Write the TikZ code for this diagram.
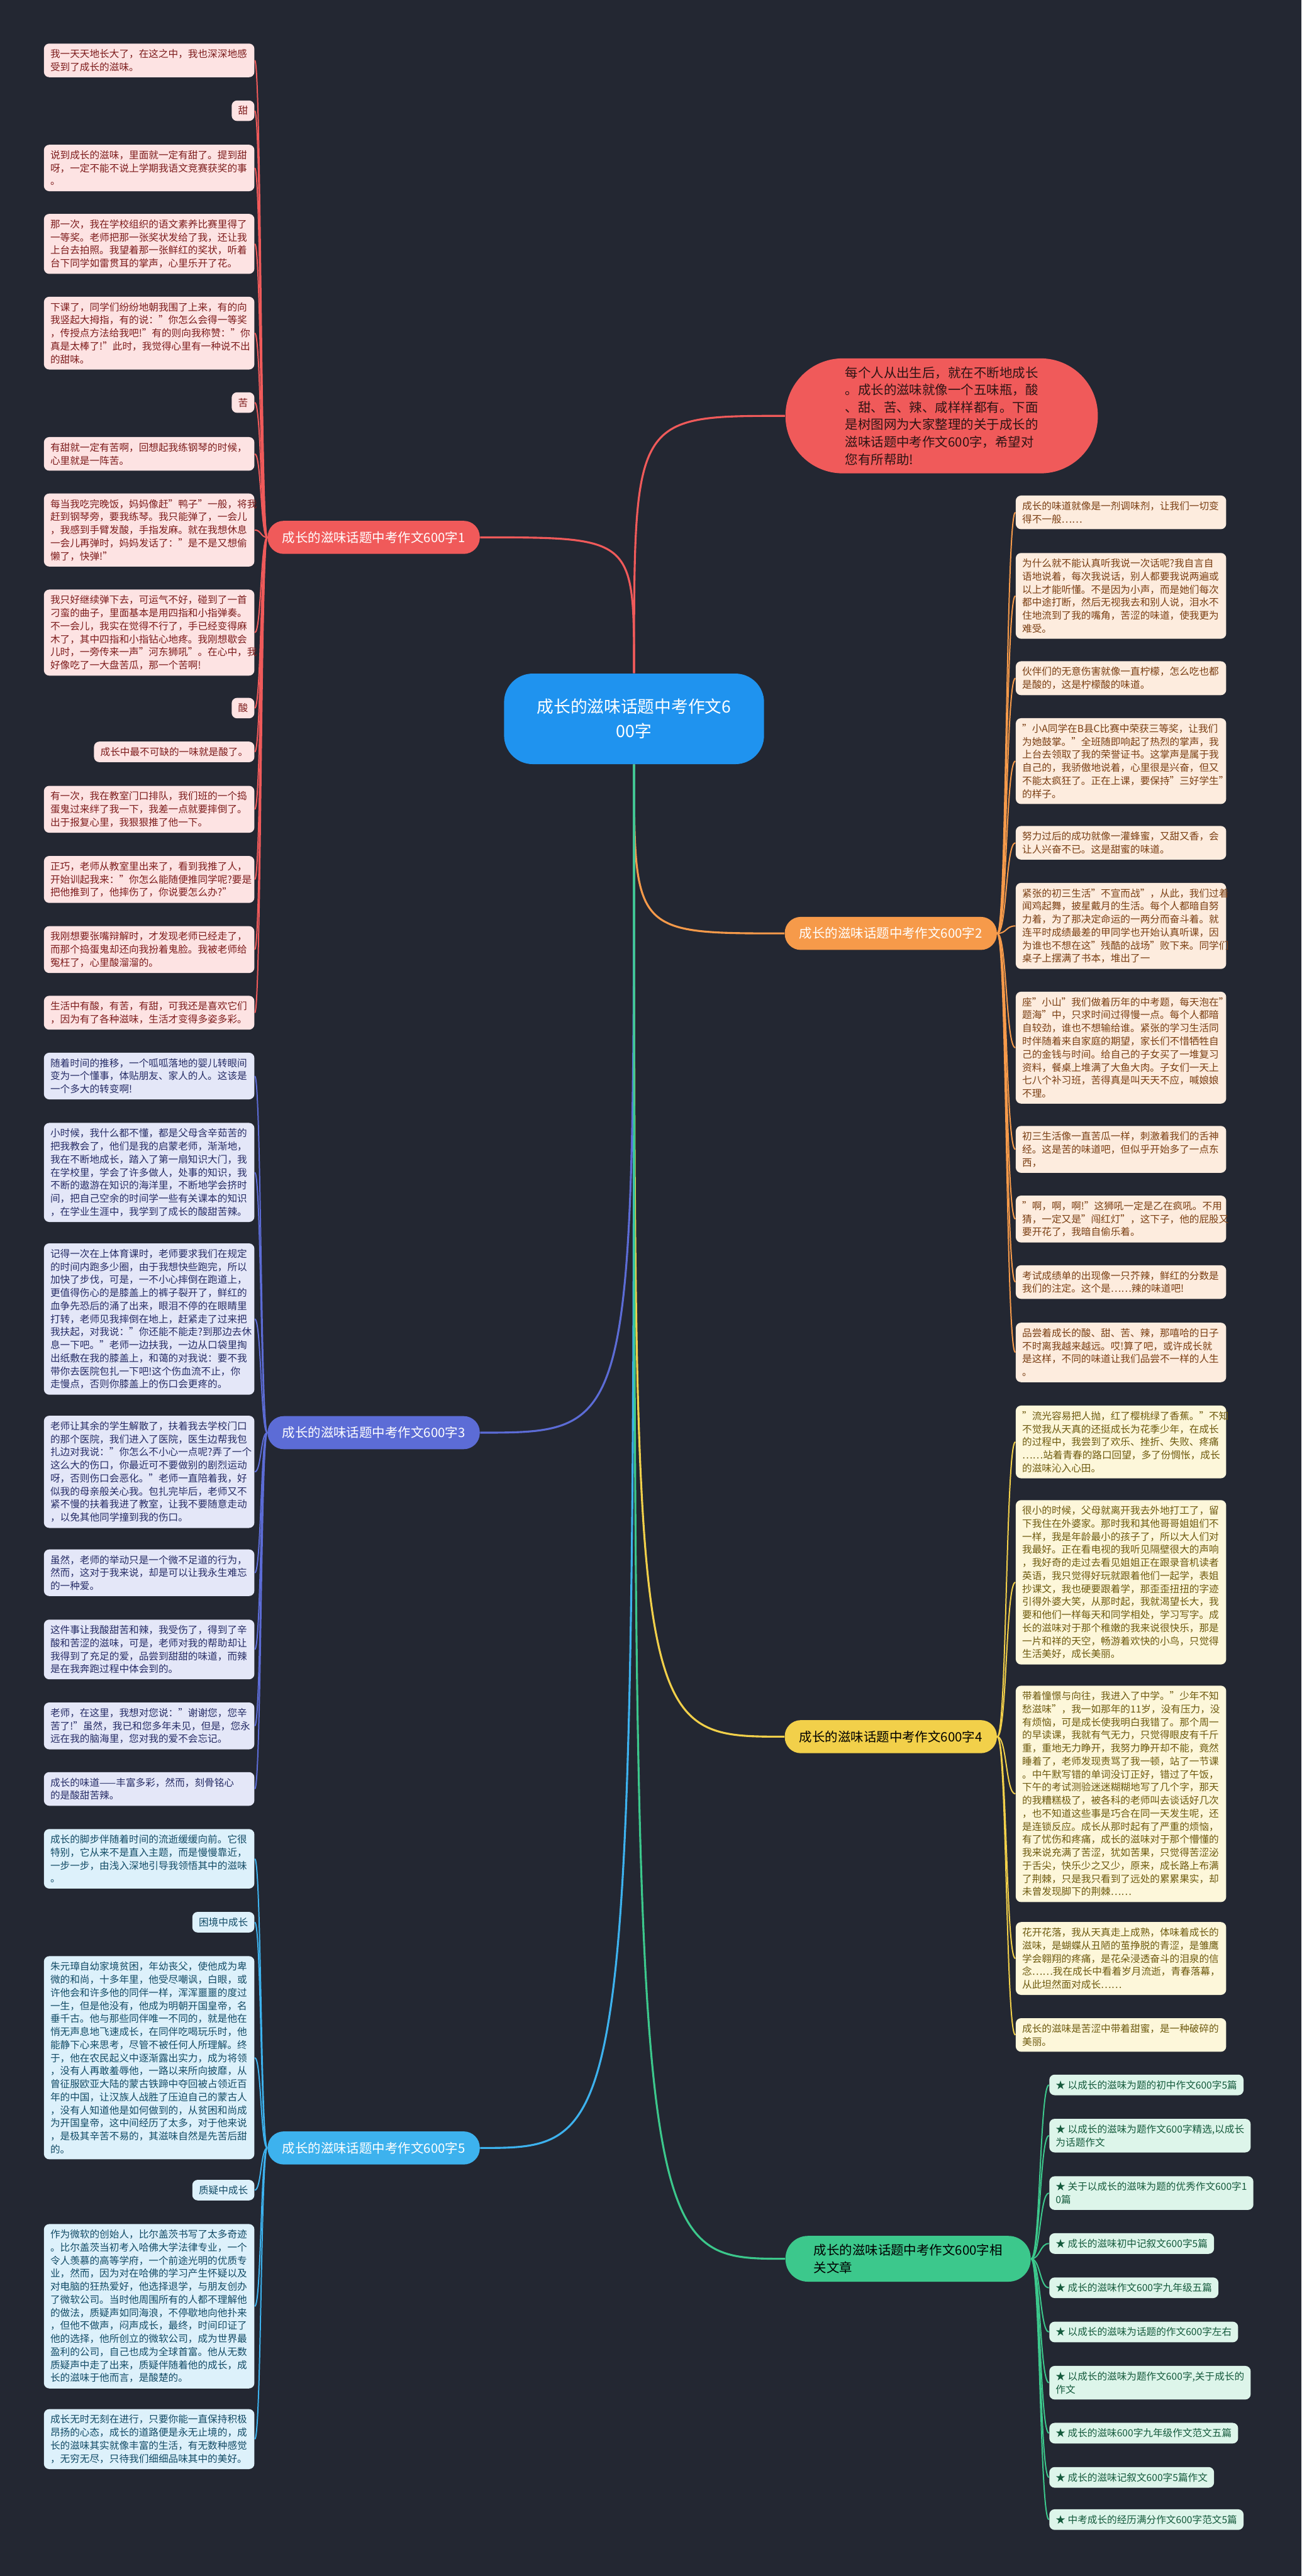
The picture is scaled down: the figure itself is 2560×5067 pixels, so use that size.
\documentclass[tikz,border=0pt]{standalone}
\usepackage{fontspec}
\setmainfont{Noto Sans CJK SC}
\usepackage{xcolor}
\usepackage{tikz}

\definecolor{bgcol}{RGB}{35,39,50}
\definecolor{rootblue}{RGB}{31,147,239}
\definecolor{redcol}{RGB}{240,90,90}
\definecolor{redpale}{RGB}{253,227,227}
\definecolor{redink}{RGB}{125,28,28}
\definecolor{orangecol}{RGB}{246,154,74}
\definecolor{orangepale}{RGB}{253,236,222}
\definecolor{orangeink}{RGB}{122,62,18}
\definecolor{indigocol}{RGB}{92,108,214}
\definecolor{indigopale}{RGB}{228,231,248}
\definecolor{indigoink}{RGB}{38,44,102}
\definecolor{yellowcol}{RGB}{242,208,74}
\definecolor{yellowpale}{RGB}{253,247,218}
\definecolor{yellowink}{RGB}{110,90,14}
\definecolor{cyancol}{RGB}{61,178,238}
\definecolor{cyanpale}{RGB}{221,241,251}
\definecolor{cyanink}{RGB}{18,75,102}
\definecolor{greencol}{RGB}{60,200,140}
\definecolor{greenpale}{RGB}{221,245,234}
\definecolor{greenink}{RGB}{20,90,60}

\tikzset{
  box/.style={rounded corners=3pt, inner xsep=3.6pt, inner ysep=3.2pt, align=left,
    font=\fontsize{5.5}{7.3}\selectfont},
  wide/.style={text width=110.5pt},
  redbox/.style={box, fill=redpale, text=redink},
  orangebox/.style={box, fill=orangepale, text=orangeink},
  indigobox/.style={box, fill=indigopale, text=indigoink},
  yellowbox/.style={box, fill=yellowpale, text=yellowink},
  cyanbox/.style={box, fill=cyanpale, text=cyanink},
  greenbox/.style={box, fill=greenpale, text=greenink},
  branch/.style={rounded corners=9pt, minimum width=4.17cm, minimum height=0.65cm,
    inner sep=2pt, align=center, font=\fontsize{7.2}{9.6}\selectfont},
  twig/.style={line width=0.7pt},
  limb/.style={line width=1.1pt},
}

\begin{document}
\begin{tikzpicture}[x=0.01cm, y=-0.01cm]
\fill[bgcol] (0,0) rectangle (2560,5067);

% root and intro
\node[fill=rootblue, text=white, rounded corners=16pt, minimum width=5.11cm, minimum height=1.78cm,
  align=center, font=\fontsize{9.4}{13.6}\selectfont] (root) at (1247,1414) {成长的滋味话题中考作文6\\00字};
\node[fill=redcol, text={rgb,255:red,46;green,20;blue,20}, rounded corners=32pt, minimum width=6.14cm,
  minimum height=2.26cm, align=left, font=\fontsize{7.2}{9.7}\selectfont] (intro) at (1852,818)
  {每个人从出生后，就在不断地成长\\。成长的滋味就像一个五味瓶，酸\\、甜、苦、辣、咸样样都有。下面\\是树图网为大家整理的关于成长的\\滋味话题中考作文600字，希望对\\您有所帮助!};

% branches
\node[branch, fill=redcol, text=white] (b1) at (735,1057) {成长的滋味话题中考作文600字1};
\node[branch, fill=orangecol, text=white] (b2) at (1752,1836) {成长的滋味话题中考作文600字2};
\node[branch, fill=indigocol, text=white] (b3) at (735,2818) {成长的滋味话题中考作文600字3};
\node[branch, fill=yellowcol, text=black] (b4) at (1752,3416) {成长的滋味话题中考作文600字4};
\node[branch, fill=cyancol, text=white] (b5) at (735,4225) {成长的滋味话题中考作文600字5};
\node[branch, fill=greencol, text=black, minimum width=4.82cm, minimum height=0.9cm, rounded corners=12.5pt,
  align=left] (b6) at (1786,4443) {成长的滋味话题中考作文600字相\\关文章};

% branch 1
\node[redbox, wide, anchor=north east] (l1) at (501,85) {我一天天地长大了，在这之中，我也深深地感\\受到了成长的滋味。};
\node[redbox, anchor=north east] (l2) at (501,197) {甜};
\node[redbox, wide, anchor=north east] (l3) at (501,284) {说到成长的滋味，里面就一定有甜了。提到甜\\呀，一定不能不说上学期我语文竞赛获奖的事\\。};
\node[redbox, wide, anchor=north east] (l4) at (501,420) {那一次，我在学校组织的语文素养比赛里得了\\一等奖。老师把那一张奖状发给了我，还让我\\上台去拍照。我望着那一张鲜红的奖状，听着\\台下同学如雷贯耳的掌声，心里乐开了花。};
\node[redbox, wide, anchor=north east] (l5) at (501,583) {下课了，同学们纷纷地朝我围了上来，有的向\\我竖起大拇指，有的说："你怎么会得一等奖\\，传授点方法给我吧!"有的则向我称赞："你\\真是太棒了!"此时，我觉得心里有一种说不出\\的甜味。};
\node[redbox, anchor=north east] (l6) at (501,771) {苦};
\node[redbox, wide, anchor=north east] (l7) at (501,859) {有甜就一定有苦啊，回想起我练钢琴的时候，\\心里就是一阵苦。};
\node[redbox, wide, anchor=north east] (l8) at (501,970) {每当我吃完晚饭，妈妈像赶"鸭子"一般，将我\\赶到钢琴旁，要我练琴。我只能弹了，一会儿\\，我感到手臂发酸，手指发麻。就在我想休息\\一会儿再弹时，妈妈发话了："是不是又想偷\\懒了，快弹!"};
\node[redbox, wide, anchor=north east] (l9) at (501,1159) {我只好继续弹下去，可运气不好，碰到了一首\\刁蛮的曲子，里面基本是用四指和小指弹奏。\\不一会儿，我实在觉得不行了，手已经变得麻\\木了，其中四指和小指钻心地疼。我刚想歇会\\儿时，一旁传来一声"河东狮吼"。在心中，我\\好像吃了一大盘苦瓜，那一个苦啊!};
\node[redbox, anchor=north east] (l10) at (501,1372) {酸};
\node[redbox, anchor=north east] (l11) at (501,1458) {成长中最不可缺的一味就是酸了。};
\node[redbox, wide, anchor=north east] (l12) at (501,1545) {有一次，我在教室门口排队，我们班的一个捣\\蛋鬼过来绊了我一下，我差一点就要摔倒了。\\出于报复心里，我狠狠推了他一下。};
\node[redbox, wide, anchor=north east] (l13) at (501,1683) {正巧，老师从教室里出来了，看到我推了人，\\开始训起我来："你怎么能随便推同学呢?要是\\把他推到了，他摔伤了，你说要怎么办?"};
\node[redbox, wide, anchor=north east] (l14) at (501,1821) {我刚想要张嘴辩解时，才发现老师已经走了，\\而那个捣蛋鬼却还向我扮着鬼脸。我被老师给\\冤枉了，心里酸溜溜的。};
\node[redbox, wide, anchor=north east] (l15) at (501,1958) {生活中有酸，有苦，有甜，可我还是喜欢它们\\，因为有了各种滋味，生活才变得多姿多彩。};

% branch 3
\node[indigobox, wide, anchor=north east] (m1) at (501,2070) {随着时间的推移，一个呱呱落地的婴儿转眼间\\变为一个懂事，体贴朋友、家人的人。这该是\\一个多大的转变啊!};
\node[indigobox, wide, anchor=north east] (m2) at (501,2208) {小时候，我什么都不懂，都是父母含辛茹苦的\\把我教会了，他们是我的启蒙老师，渐渐地，\\我在不断地成长，踏入了第一扇知识大门，我\\在学校里，学会了许多做人，处事的知识，我\\不断的遨游在知识的海洋里，不断地学会挤时\\间，把自己空余的时间学一些有关课本的知识\\，在学业生涯中，我学到了成长的酸甜苦辣。};
\node[indigobox, wide, anchor=north east] (m3) at (501,2445) {记得一次在上体育课时，老师要求我们在规定\\的时间内跑多少圈，由于我想快些跑完，所以\\加快了步伐，可是，一不小心摔倒在跑道上，\\更值得伤心的是膝盖上的裤子裂开了，鲜红的\\血争先恐后的涌了出来，眼泪不停的在眼睛里\\打转，老师见我摔倒在地上，赶紧走了过来把\\我扶起，对我说："你还能不能走?到那边去休\\息一下吧。"老师一边扶我，一边从口袋里掏\\出纸敷在我的膝盖上，和蔼的对我说：要不我\\带你去医院包扎一下吧!这个伤血流不止，你\\走慢点，否则你膝盖上的伤口会更疼的。};
\node[indigobox, wide, anchor=north east] (m4) at (501,2784) {老师让其余的学生解散了，扶着我去学校门口\\的那个医院，我们进入了医院，医生边帮我包\\扎边对我说："你怎么不小心一点呢?弄了一个\\这么大的伤口，你最近可不要做别的剧烈运动\\呀，否则伤口会恶化。"老师一直陪着我，好\\似我的母亲般关心我。包扎完毕后，老师又不\\紧不慢的扶着我进了教室，让我不要随意走动\\，以免其他同学撞到我的伤口。};
\node[indigobox, wide, anchor=north east] (m5) at (501,3047) {虽然，老师的举动只是一个微不足道的行为，\\然而，这对于我来说，却是可以让我永生难忘\\的一种爱。};
\node[indigobox, wide, anchor=north east] (m6) at (501,3185) {这件事让我酸甜苦和辣，我受伤了，得到了辛\\酸和苦涩的滋味，可是，老师对我的帮助却让\\我得到了充足的爱，品尝到甜甜的味道，而辣\\是在我奔跑过程中体会到的。};
\node[indigobox, wide, anchor=north east] (m7) at (501,3348) {老师，在这里，我想对您说："谢谢您，您辛\\苦了!"虽然，我已和您多年未见，但是，您永\\远在我的脑海里，您对我的爱不会忘记。};
\node[indigobox, wide, anchor=north east] (m8) at (501,3485) {成长的味道——丰富多彩，然而，刻骨铭心\\的是酸甜苦辣。};

% branch 5
\node[cyanbox, wide, anchor=north east] (c1) at (501,3597) {成长的脚步伴随着时间的流逝缓缓向前。它很\\特别，它从来不是直入主题，而是慢慢靠近，\\一步一步，由浅入深地引导我领悟其中的滋味\\。};
\node[cyanbox, anchor=north east] (c2) at (501,3760) {困境中成长};
\node[cyanbox, wide, anchor=north east] (c3) at (501,3847) {朱元璋自幼家境贫困，年幼丧父，使他成为卑\\微的和尚，十多年里，他受尽嘲讽，白眼，或\\许他会和许多他的同伴一样，浑浑噩噩的度过\\一生，但是他没有，他成为明朝开国皇帝，名\\垂千古。他与那些同伴唯一不同的，就是他在\\悄无声息地飞速成长，在同伴吃喝玩乐时，他\\能静下心来思考，尽管不被任何人所理解。终\\于，他在农民起义中逐渐露出实力，成为将领\\，没有人再敢羞辱他，一路以来所向披靡，从\\曾征服欧亚大陆的蒙古铁蹄中夺回被占领近百\\年的中国，让汉族人战胜了压迫自己的蒙古人\\，没有人知道他是如何做到的，从贫困和尚成\\为开国皇帝，这中间经历了太多，对于他来说\\，是极其辛苦不易的，其滋味自然是先苦后甜\\的。};
\node[cyanbox, anchor=north east] (c4) at (501,4287) {质疑中成长};
\node[cyanbox, wide, anchor=north east] (c5) at (501,4374) {作为微软的创始人，比尔盖茨书写了太多奇迹\\。比尔盖茨当初考入哈佛大学法律专业，一个\\令人羡慕的高等学府，一个前途光明的优质专\\业，然而，因为对在哈佛的学习产生怀疑以及\\对电脑的狂热爱好，他选择退学，与朋友创办\\了微软公司。当时他周围所有的人都不理解他\\的做法，质疑声如同海浪，不停歇地向他扑来\\，但他不做声，闷声成长，最终，时间印证了\\他的选择，他所创立的微软公司，成为世界最\\盈利的公司，自己也成为全球首富。他从无数\\质疑声中走了出来，质疑伴随着他的成长，成\\长的滋味于他而言，是酸楚的。};
\node[cyanbox, wide, anchor=north east] (c6) at (501,4738) {成长无时无刻在进行，只要你能一直保持积极\\昂扬的心态，成长的道路便是永无止境的，成\\长的滋味其实就像丰富的生活，有无数种感觉\\，无穷无尽，只待我们细细品味其中的美好。};

% branch 2
\node[orangebox, wide, anchor=north west] (o1) at (1997,974) {成长的味道就像是一剂调味剂，让我们一切变\\得不一般……};
\node[orangebox, wide, anchor=north west] (o2) at (1997,1087) {为什么就不能认真听我说一次话呢?我自言自\\语地说着，每次我说话，别人都要我说两遍或\\以上才能听懂。不是因为小声，而是她们每次\\都中途打断，然后无视我去和别人说，泪水不\\住地流到了我的嘴角，苦涩的味道，使我更为\\难受。};
\node[orangebox, wide, anchor=north west] (o3) at (1997,1300) {伙伴们的无意伤害就像一直柠檬，怎么吃也都\\是酸的，这是柠檬酸的味道。};
\node[orangebox, wide, anchor=north west] (o4) at (1997,1412) {"小A同学在B县C比赛中荣获三等奖，让我们\\为她鼓掌。"全班随即响起了热烈的掌声，我\\上台去领取了我的荣誉证书。这掌声是属于我\\自己的，我骄傲地说着，心里很是兴奋，但又\\不能太疯狂了。正在上课，要保持"三好学生"\\的样子。};
\node[orangebox, wide, anchor=north west] (o5) at (1997,1624) {努力过后的成功就像一灌蜂蜜，又甜又香，会\\让人兴奋不已。这是甜蜜的味道。};
\node[orangebox, wide, anchor=north west] (o6) at (1997,1736) {紧张的初三生活"不宣而战"，从此，我们过着\\闻鸡起舞，披星戴月的生活。每个人都暗自努\\力着，为了那决定命运的一两分而奋斗着。就\\连平时成绩最差的甲同学也开始认真听课，因\\为谁也不想在这"残酷的战场"败下来。同学们\\桌子上摆满了书本，堆出了一};
\node[orangebox, wide, anchor=north west] (o7) at (1997,1950) {座"小山"我们做着历年的中考题，每天泡在"\\题海"中，只求时间过得慢一点。每个人都暗\\自较劲，谁也不想输给谁。紧张的学习生活同\\时伴随着来自家庭的期望，家长们不惜牺牲自\\己的金钱与时间。给自己的子女买了一堆复习\\资料，餐桌上堆满了大鱼大肉。子女们一天上\\七八个补习班，苦得真是叫天天不应，喊娘娘\\不理。};
\node[orangebox, wide, anchor=north west] (o8) at (1997,2214) {初三生活像一直苦瓜一样，刺激着我们的舌神\\经。这是苦的味道吧，但似乎开始多了一点东\\西，};
\node[orangebox, wide, anchor=north west] (o9) at (1997,2351) {"啊，啊，啊!"这狮吼一定是乙在疯吼。不用\\猜，一定又是"闯红灯"，这下子，他的屁股又\\要开花了，我暗自偷乐着。};
\node[orangebox, wide, anchor=north west] (o10) at (1997,2488) {考试成绩单的出现像一只芥辣，鲜红的分数是\\我们的注定。这个是……辣的味道吧!};
\node[orangebox, wide, anchor=north west] (o11) at (1997,2601) {品尝着成长的酸、甜、苦、辣，那嘻哈的日子\\不时离我越来越远。哎!算了吧，或许成长就\\是这样，不同的味道让我们品尝不一样的人生\\。};

% branch 4
\node[yellowbox, wide, anchor=north west] (y1) at (1997,2764) {"流光容易把人抛，红了樱桃绿了香蕉。"不知\\不觉我从天真的还挺成长为花季少年，在成长\\的过程中，我尝到了欢乐、挫折、失败、疼痛\\……站着青春的路口回望，多了份惆怅，成长\\的滋味沁入心田。};
\node[yellowbox, wide, anchor=north west] (y2) at (1997,2950) {很小的时候，父母就离开我去外地打工了，留\\下我住在外婆家。那时我和其他哥哥姐姐们不\\一样，我是年龄最小的孩子了，所以大人们对\\我最好。正在看电视的我听见隔壁很大的声响\\，我好奇的走过去看见姐姐正在跟录音机读者\\英语，我只觉得好玩就跟着他们一起学，表姐\\抄课文，我也硬要跟着学，那歪歪扭扭的字迹\\引得外婆大笑，从那时起，我就渴望长大，我\\要和他们一样每天和同学相处，学习写字。成\\长的滋味对于那个稚嫩的我来说很快乐，那是\\一片和祥的天空，畅游着欢快的小鸟，只觉得\\生活美好，成长美丽。};
\node[yellowbox, wide, anchor=north west] (y3) at (1997,3315) {带着憧憬与向往，我进入了中学。"少年不知\\愁滋味"，我一如那年的11岁，没有压力，没\\有烦恼，可是成长使我明白我错了。那个周一\\的早读课，我就有气无力，只觉得眼皮有千斤\\重，重地无力睁开，我努力睁开却不能，竟然\\睡着了，老师发现责骂了我一顿，站了一节课\\。中午默写错的单词没订正好，错过了午饭，\\下午的考试测验迷迷糊糊地写了几个字，那天\\的我糟糕极了，被各科的老师叫去谈话好几次\\，也不知道这些事是巧合在同一天发生呢，还\\是连锁反应。成长从那时起有了严重的烦恼，\\有了忧伤和疼痛，成长的滋味对于那个懵懂的\\我来说充满了苦涩，犹如苦果，只觉得苦涩泌\\于舌尖，快乐少之又少，原来，成长路上布满\\了荆棘，只是我只看到了远处的累累果实，却\\未曾发现脚下的荆棘……};
\node[yellowbox, wide, anchor=north west] (y4) at (1997,3780) {花开花落，我从天真走上成熟，体味着成长的\\滋味，是蝴蝶从丑陋的茧挣脱的青涩，是雏鹰\\学会翱翔的疼痛，是花朵浸透奋斗的泪泉的信\\念……我在成长中看着岁月流逝，青春落幕，\\从此坦然面对成长……};
\node[yellowbox, wide, anchor=north west] (y5) at (1997,3969) {成长的滋味是苦涩中带着甜蜜，是一种破碎的\\美丽。};

% branch 6
\node[greenbox, anchor=north west] (g1) at (2063,4080) {★ 以成长的滋味为题的初中作文600字5篇};
\node[greenbox, anchor=north west] (g2) at (2063,4167) {★ 以成长的滋味为题作文600字精选,以成长\\为话题作文};
\node[greenbox, anchor=north west] (g3) at (2063,4280) {★ 关于以成长的滋味为题的优秀作文600字1\\0篇};
\node[greenbox, anchor=north west] (g4) at (2063,4392) {★ 成长的滋味初中记叙文600字5篇};
\node[greenbox, anchor=north west] (g5) at (2063,4479) {★ 成长的滋味作文600字九年级五篇};
\node[greenbox, anchor=north west] (g6) at (2063,4566) {★ 以成长的滋味为话题的作文600字左右};
\node[greenbox, anchor=north west] (g7) at (2063,4653) {★ 以成长的滋味为题作文600字,关于成长的\\作文};
\node[greenbox, anchor=north west] (g8) at (2063,4765) {★ 成长的滋味600字九年级作文范文五篇};
\node[greenbox, anchor=north west] (g9) at (2063,4852) {★ 成长的滋味记叙文600字5篇作文};
\node[greenbox, anchor=north west] (g10) at (2063,4935) {★ 中考成长的经历满分作文600字范文5篇};

% root to branches
\draw[limb, redcol] (root.north) .. controls (root.north |- intro.west) .. (intro.west);
\draw[limb, redcol] (root.north) .. controls (root.north |- b1.east) .. (b1.east);
\draw[limb, orangecol] (root.south) .. controls (root.south |- b2.west) .. (b2.west);
\draw[limb, indigocol] (root.south) .. controls (root.south |- b3.east) .. (b3.east);
\draw[limb, yellowcol] (root.south) .. controls (root.south |- b4.west) .. (b4.west);
\draw[limb, cyancol] (root.south) .. controls (root.south |- b5.east) .. (b5.east);
\draw[limb, greencol] (root.south) .. controls (root.south |- b6.west) .. (b6.west);

% branches to leaves
\foreach \i in {1,...,15}
  \draw[twig, redcol] (b1.west) .. controls +(-13,0) and +(13,0) .. (l\i.east);
\foreach \i in {1,...,8}
  \draw[twig, indigocol] (b3.west) .. controls +(-13,0) and +(13,0) .. (m\i.east);
\foreach \i in {1,...,6}
  \draw[twig, cyancol] (b5.west) .. controls +(-13,0) and +(13,0) .. (c\i.east);
\foreach \i in {1,...,11}
  \draw[twig, orangecol] (b2.east) .. controls +(19,0) and +(-19,0) .. (o\i.west);
\foreach \i in {1,...,5}
  \draw[twig, yellowcol] (b4.east) .. controls +(19,0) and +(-19,0) .. (y\i.west);
\foreach \i in {1,...,10}
  \draw[twig, greencol] (b6.east) .. controls +(18,0) and +(-18,0) .. (g\i.west);
\end{tikzpicture}
\end{document}
